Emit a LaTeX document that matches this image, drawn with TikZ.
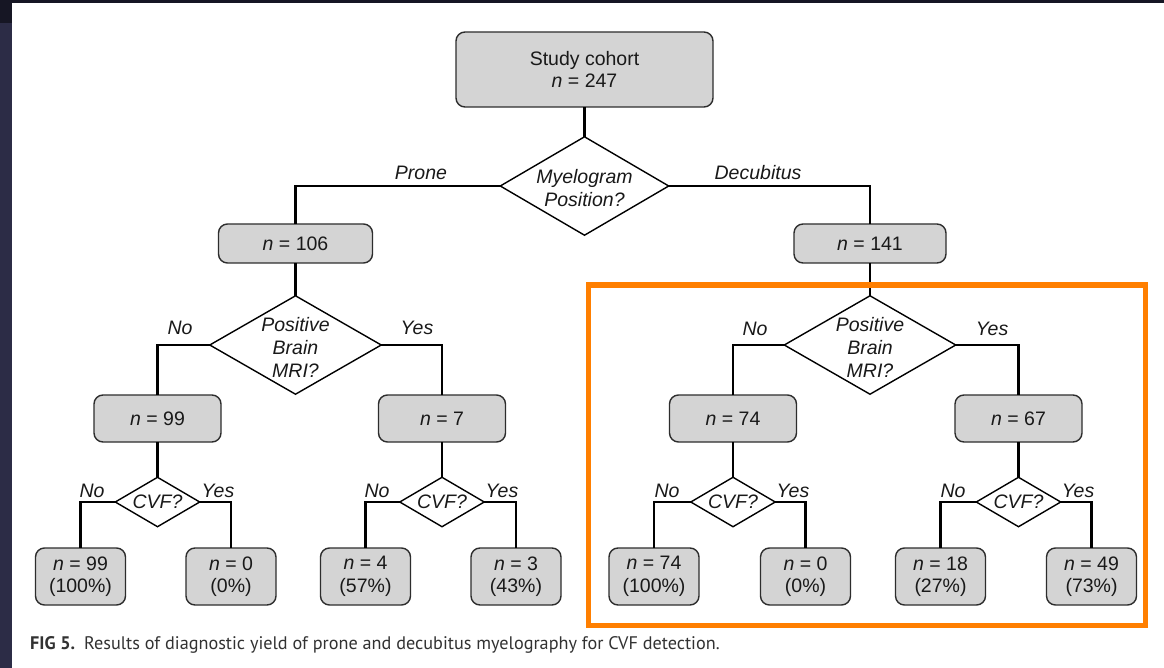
\documentclass[tikz,border=0pt]{standalone}
\usepackage{fontspec}
\setmainfont{Liberation Sans}
\newfontfamily\capfont{PT Sans}
\usetikzlibrary{shapes.geometric}
\definecolor{boxgray}{RGB}{212,212,212}
\definecolor{boxedge}{RGB}{45,45,45}
\definecolor{orng}{RGB}{255,127,0}
\definecolor{navy}{RGB}{44,44,70}
\definecolor{navyd}{RGB}{22,22,36}
\definecolor{capgray}{RGB}{50,50,50}
\definecolor{txt}{RGB}{25,25,25}
\begin{document}
\begin{tikzpicture}[x=1pt,y=-1pt,
  box/.style={draw=boxedge, line width=1.4pt, fill=boxgray, rounded corners=9pt, inner sep=0pt, align=center, text=txt, font=\fontsize{19.5}{22.5}\selectfont},
  midbox/.style={box, minimum width=127pt, minimum height=47pt},
  leafbox/.style={box, minimum width=90pt, minimum height=57pt},
  dia/.style={draw=black, line width=1.4pt, fill=white, diamond, inner sep=0pt},
  dtext/.style={align=center, inner sep=0pt, text=txt, font=\fontsize{19.5}{23}\selectfont\itshape},
  lbl/.style={inner sep=0pt, text=txt, font=\fontsize{19.5}{23}\selectfont\itshape},
  conn/.style={line width=2.2pt, line cap=rect}
]
\useasboundingbox (0,0) rectangle (1164,668);
\fill[white] (0,0) rectangle (1164,668);
\fill[navy] (0,0) rectangle (12,668);
\fill[navyd] (0,0) rectangle (1164,3);
\fill[navyd] (0,0) rectangle (12,23);

% top
\node[box, minimum width=257pt, minimum height=75pt] (study) at (584.5,69.5) {Study cohort\\\textit{n} = 247};
\node[dia, minimum width=169pt, minimum height=99pt] (d1) at (584.5,186) {};
\node[dtext] (d1t) at (584.5,188) {Myelogram\\Position?};

\node[box, minimum width=154pt, minimum height=39pt] (n106) at (295.5,243.5) {\textit{n} = 106};
\node[box, minimum width=152pt, minimum height=39pt] (n141) at (870,243.5) {\textit{n} = 141};

% second level diamonds
\node[dia, minimum width=172pt, minimum height=99pt] (d2l) at (295.5,345) {};
\node[dtext] (d2lt) at (295.5,347) {Positive\\Brain\\MRI?};
\node[dia, minimum width=172pt, minimum height=99pt] (d2r) at (870,345) {};
\node[dtext] (d2rt) at (870,347) {Positive\\Brain\\MRI?};

% mid boxes
\node[midbox] (n99) at (157.5,418.5) {\textit{n} = 99};
\node[midbox] (n7) at (442,418.5) {\textit{n} = 7};
\node[midbox] (n74) at (733,418.5) {\textit{n} = 74};
\node[midbox] (n67) at (1018.5,418.5) {\textit{n} = 67};

% CVF diamonds
\node[dia, minimum width=85pt, minimum height=50pt] (c1) at (157.5,502) {};
\node[dtext] (c1t) at (157.5,502) {CVF?};
\node[dia, minimum width=85pt, minimum height=50pt] (c2) at (442,502) {};
\node[dtext] (c2t) at (442,502) {CVF?};
\node[dia, minimum width=85pt, minimum height=50pt] (c3) at (733,502) {};
\node[dtext] (c3t) at (733,502) {CVF?};
\node[dia, minimum width=85pt, minimum height=50pt] (c4) at (1018.5,502) {};
\node[dtext] (c4t) at (1018.5,502) {CVF?};

% leaves
\node[leafbox] (l1) at (80.5,576.5) {\textit{n} = 99\\(100\%)};
\node[leafbox] (l2) at (231,576.5) {\textit{n} = 0\\(0\%)};
\node[leafbox] (l3) at (365.5,576.5) {\textit{n} = 4\\(57\%)};
\node[leafbox] (l4) at (516,576.5) {\textit{n} = 3\\(43\%)};
\node[leafbox] (l5) at (654,576.5) {\textit{n} = 74\\(100\%)};
\node[leafbox] (l6) at (805.5,576.5) {\textit{n} = 0\\(0\%)};
\node[leafbox] (l7) at (940.5,576.5) {\textit{n} = 18\\(27\%)};
\node[leafbox] (l8) at (1091.5,576.5) {\textit{n} = 49\\(73\%)};

% connectors
\draw[conn] (study.south) -- (d1.north);
\draw[conn] (d1.west) -| (n106.north);
\draw[conn] (d1.east) -| (n141.north);
\draw[conn] (n106.south) -- (d2l.north);
\draw[conn] (n141.south) -- (d2r.north);
\draw[conn] (d2l.west) -| (n99.north);
\draw[conn] (d2l.east) -| (n7.north);
\draw[conn] (d2r.west) -| (n74.north);
\draw[conn] (d2r.east) -| (n67.north);
\draw[conn] (n99.south) -- (c1.north);
\draw[conn] (n7.south) -- (c2.north);
\draw[conn] (n74.south) -- (c3.north);
\draw[conn] (n67.south) -- (c4.north);
\draw[conn] (c1.west) -| (l1.north);
\draw[conn] (c1.east) -| (l2.north);
\draw[conn] (c2.west) -| (l3.north);
\draw[conn] (c2.east) -| (l4.north);
\draw[conn] (c3.west) -| (l5.north);
\draw[conn] (c3.east) -| (l6.north);
\draw[conn] (c4.west) -| (l7.north);
\draw[conn] (c4.east) -| (l8.north);

% labels
\node[lbl] (lprone) at (421,173) {Prone};
\node[lbl] (ldecub) at (758,173) {Decubitus};
\node[lbl] (lno1) at (180,328) {No};
\node[lbl] (lyes1) at (417,328) {Yes};
\node[lbl] (lno2) at (755,329) {No};
\node[lbl] (lyes2) at (992,329) {Yes};
\node[lbl] (lc1n) at (92,491) {No};
\node[lbl] (lc1y) at (218,491) {Yes};
\node[lbl] (lc2n) at (377,491) {No};
\node[lbl] (lc2y) at (502,491) {Yes};
\node[lbl] (lc3n) at (667,491) {No};
\node[lbl] (lc3y) at (793,491) {Yes};
\node[lbl] (lc4n) at (953,491) {No};
\node[lbl] (lc4y) at (1078,491) {Yes};

% highlight
\draw[orng, line width=5pt] (588,285) rectangle (1145,625);

% caption
\node[anchor=base west, inner sep=0pt, text=capgray, font=\capfont\fontsize{18.2}{21}\selectfont] (cap) at (30,649) {\textbf{FIG 5.}\enspace Results of diagnostic yield of prone and decubitus myelography for CVF detection.};
\end{tikzpicture}
\end{document}
